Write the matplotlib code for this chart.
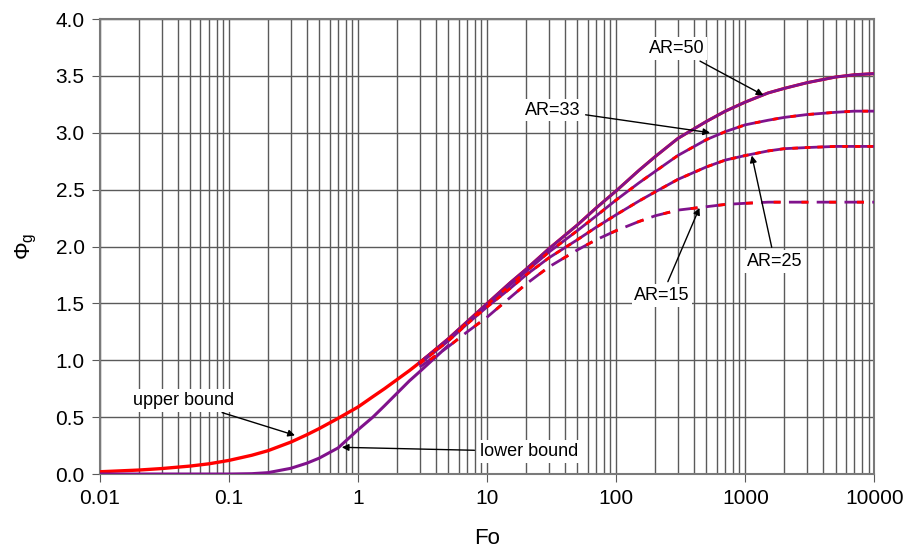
import matplotlib.pyplot as plt
from matplotlib.ticker import LogLocator, FixedLocator, NullFormatter

plt.rcParams['font.family'] = ['Liberation Sans', 'DejaVu Sans']
plt.rcParams['lines.scale_dashes'] = False

# bound curves (low Fo)
fo_bound = [0.01, 0.02, 0.03, 0.05, 0.07, 0.1, 0.15, 0.2, 0.3, 0.4, 0.5, 0.7, 1, 1.3, 1.6, 2, 2.5, 3, 4, 5]
upper = [0.02, 0.035, 0.048, 0.07, 0.09, 0.12, 0.165, 0.205, 0.28, 0.345, 0.40, 0.49, 0.59, 0.68, 0.75, 0.83, 0.91, 0.98, 1.09, 1.18]
lower = [0.0, 0.0, 0.0, 0.0, 0.0, 0.0, 0.003, 0.012, 0.05, 0.095, 0.14, 0.23, 0.39, 0.50, 0.60, 0.71, 0.82, 0.90, 1.03, 1.13]

# aspect ratio curves
fo_ar = [3, 5, 7, 10, 15, 20, 30, 50, 70, 100, 150, 200, 300, 500, 700, 1000, 1500, 2000, 3000, 5000, 7000, 10000]
ar50 = [0.98, 1.19, 1.34, 1.50, 1.68, 1.80, 1.98, 2.19, 2.34, 2.49, 2.67, 2.79, 2.95, 3.10, 3.19, 3.27, 3.35, 3.39, 3.44, 3.49, 3.51, 3.52]
ar33 = [0.98, 1.18, 1.33, 1.49, 1.66, 1.78, 1.95, 2.14, 2.27, 2.41, 2.56, 2.66, 2.80, 2.94, 3.01, 3.07, 3.11, 3.135, 3.16, 3.18, 3.19, 3.19]
ar25 = [0.97, 1.17, 1.32, 1.47, 1.63, 1.75, 1.90, 2.06, 2.17, 2.28, 2.40, 2.48, 2.59, 2.70, 2.76, 2.80, 2.84, 2.86, 2.87, 2.88, 2.88, 2.88]
ar15 = [0.94, 1.12, 1.25, 1.38, 1.55, 1.67, 1.82, 1.97, 2.06, 2.14, 2.22, 2.27, 2.32, 2.35, 2.37, 2.38, 2.39, 2.39, 2.39, 2.39, 2.39, 2.39]

red = "#ff0000"
purple = "#80128c"

fig = plt.figure(figsize=(9.1, 5.51), dpi=100)
ax = fig.add_axes([0.1099, 0.1397, 0.851, 0.8258])

ax.set_xscale("log")
ax.set_xlim(0.01, 10000)
ax.set_ylim(0, 4.0)

# grid
ax.xaxis.set_minor_locator(LogLocator(base=10, subs=range(2, 10), numticks=100))
ax.xaxis.set_minor_formatter(NullFormatter())
ax.yaxis.set_major_locator(FixedLocator([0, 0.5, 1.0, 1.5, 2.0, 2.5, 3.0, 3.5, 4.0]))
ax.set_xticks([0.01, 0.1, 1, 10, 100, 1000, 10000])
ax.set_xticklabels(["0.01", "0.1", "1", "10", "100", "1000", "10000"])
ax.set_yticklabels(["0.0", "0.5", "1.0", "1.5", "2.0", "2.5", "3.0", "3.5", "4.0"])
ax.grid(True, which="both", axis="x", color="#5a5a5a", lw=1.0)
ax.grid(True, which="major", axis="y", color="#5a5a5a", lw=1.0)
ax.set_axisbelow(True)
ax.tick_params(axis="both", which="major", labelsize=15, length=6, color="#5a5a5a", pad=5)
ax.tick_params(axis="x", which="minor", length=0)
for s in ax.spines.values():
    s.set_color("#7a7a7a")
    s.set_linewidth(1.5)

# bounds
ax.plot(fo_bound, upper, color=red, lw=2.4, zorder=3)
ax.plot(fo_bound, lower, color=purple, lw=2.2, zorder=3)

# AR=50
ax.plot(fo_ar, ar50, color=red, lw=2.2, zorder=3)
ax.plot(fo_ar, ar50, color=purple, lw=2.0, zorder=4)
# AR=33
ax.plot(fo_ar, ar33, color=purple, lw=2.0, zorder=3)
ax.plot(fo_ar, ar33, color=red, lw=2.0, dashes=(4, 9), zorder=4)
# AR=25
ax.plot(fo_ar, ar25, color=purple, lw=2.0, zorder=3)
ax.plot(fo_ar, ar25, color=red, lw=2.0, dashes=(4, 5), zorder=4)
# AR=15
ax.plot(fo_ar, ar15, color=purple, lw=2.0, dashes=(14, 6), zorder=3)
ax.plot(fo_ar, ar15, color=red, lw=2.0, dashes=(0, 9, 5, 6), zorder=4)

box = dict(boxstyle="square,pad=0.15", fc="white", ec="none")
arrow = dict(arrowstyle="-|>", color="black", lw=1.0, mutation_scale=10, shrinkA=2, shrinkB=0)
fs = 13

ax.annotate("AR=50", xy=(1380, 3.33), xytext=(294, 3.74), fontsize=fs, ha="center", va="center",
            bbox=box, arrowprops=arrow, zorder=6)
ax.annotate("AR=33", xy=(533, 3.00), xytext=(32, 3.20), fontsize=fs, ha="center", va="center",
            bbox=box, arrowprops=arrow, zorder=6)
ax.annotate("AR=25", xy=(1122, 2.80), xytext=(1690, 1.87), fontsize=fs, ha="center", va="center",
            bbox=box, arrowprops=arrow, zorder=6)
ax.annotate("AR=15", xy=(441, 2.34), xytext=(226, 1.57), fontsize=fs, ha="center", va="center",
            bbox=box, arrowprops=arrow, zorder=6)
ax.annotate("upper bound", xy=(0.324, 0.34), xytext=(0.0444, 0.646), fontsize=fs, ha="center", va="center",
            bbox=box, arrowprops=arrow, zorder=6)
ax.annotate("lower bound", xy=(0.747, 0.235), xytext=(21.1, 0.198), fontsize=fs, ha="center", va="center",
            bbox=box, arrowprops=arrow, zorder=6)

ax.set_xlabel("Fo", fontsize=16, labelpad=14)
ax.set_ylabel(r"$\mathregular{\Phi_g}$", fontsize=16, labelpad=12)

fig.savefig("out.png", dpi=100)
